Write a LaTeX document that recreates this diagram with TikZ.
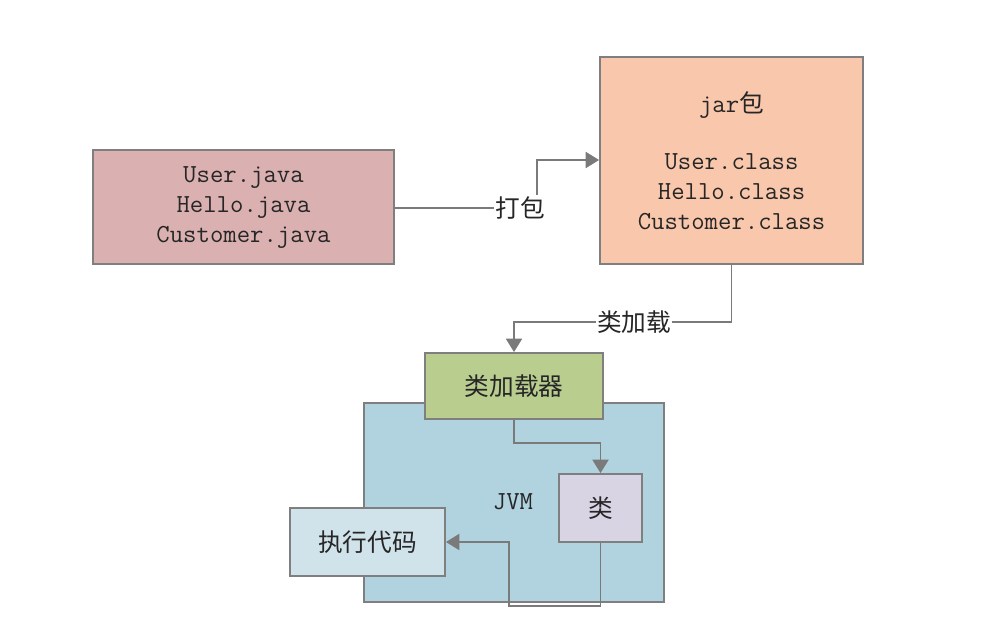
\documentclass[tikz,border=0pt]{standalone}
\usepackage{fontspec}
\newfontfamily\cjk{Noto Sans CJK SC}
\usetikzlibrary{arrows.meta}
\definecolor{cpink}{HTML}{DBB0B0}
\definecolor{cpeach}{HTML}{F9C8AC}
\definecolor{cgreen}{HTML}{B9CD8F}
\definecolor{cblue}{HTML}{B0D3DF}
\definecolor{cpurple}{HTML}{D9D4E3}
\definecolor{clight}{HTML}{D1E3EA}
\definecolor{cborder}{HTML}{7F7F7F}
\definecolor{cline}{HTML}{7A7A7A}
\tikzset{
  box/.style={draw=cborder, line width=1.4pt, rectangle, inner sep=0pt, align=center, text=black!85},
  codetext/.style={font=\ttfamily\fontsize{19.5}{22.5}\selectfont},
  cntext/.style={font=\cjk\fontsize{18.5}{22}\selectfont},
  conn/.style={draw=cline, line width=1.3pt},
  arr/.style={conn, -{Triangle[width=12pt,length=10pt]}},
  lbl/.style={fill=white, inner sep=1pt, font=\cjk\fontsize{18.5}{22}\selectfont, text=black!85}
}
\begin{document}
\begin{tikzpicture}[x=0.75pt,y=-0.75pt]
\useasboundingbox[fill=white] (0,0) rectangle (984,623);
% source box
\node[box, fill=cpink, minimum width=301*0.75pt, minimum height=114*0.75pt, codetext] (src) at (243.5,207)
  {\raisebox{-3pt}{\begin{tabular}{@{}c@{}}User.java\\Hello.java\\Customer.java\end{tabular}}};
% jar box
\node[box, fill=cpeach, minimum width=263*0.75pt, minimum height=207*0.75pt, codetext] (jar) at (731.5,160.5)
  {jar{\cjk\fontsize{18.5}{22}\selectfont 包}\\[20.25pt]User.class\\Hello.class\\Customer.class};
% JVM container
\node[box, fill=cblue, minimum width=300*0.75pt, minimum height=199*0.75pt] (jvm) at (514,502.5) {};
\node[codetext, text=black!85] (jvmlbl) at (513,502) {JVM};
% class loader
\node[box, fill=cgreen, minimum width=178*0.75pt, minimum height=66*0.75pt, cntext] (loader) at (514,386) {类加载器};
% class
\node[box, fill=cpurple, minimum width=83*0.75pt, minimum height=68*0.75pt, cntext] (cls) at (600.5,508) {类};
% execute code
\node[box, fill=clight, minimum width=155*0.75pt, minimum height=68*0.75pt, cntext] (exec) at (367.5,542) {执行代码};
% connectors
\coordinate (p1) at (537,208);
\draw[arr] (src.east |- p1) -- (p1) -- (537,160) -- (jar.west |- 0,160);
\node[lbl] (l1) at (520,208) {打包};
\draw[arr] (jar.south) -- (731.5,322) -- (514,322) -- (loader.north);
\node[lbl] (l2) at (634,322) {类加载};
\draw[arr] (loader.south) -- (514,443) -- (600.5,443) -- (cls.north);
\draw[arr] (cls.south) -- (600.5,606) -- (509,606) -- (509,542) -- (exec.east);
\end{tikzpicture}
\end{document}
